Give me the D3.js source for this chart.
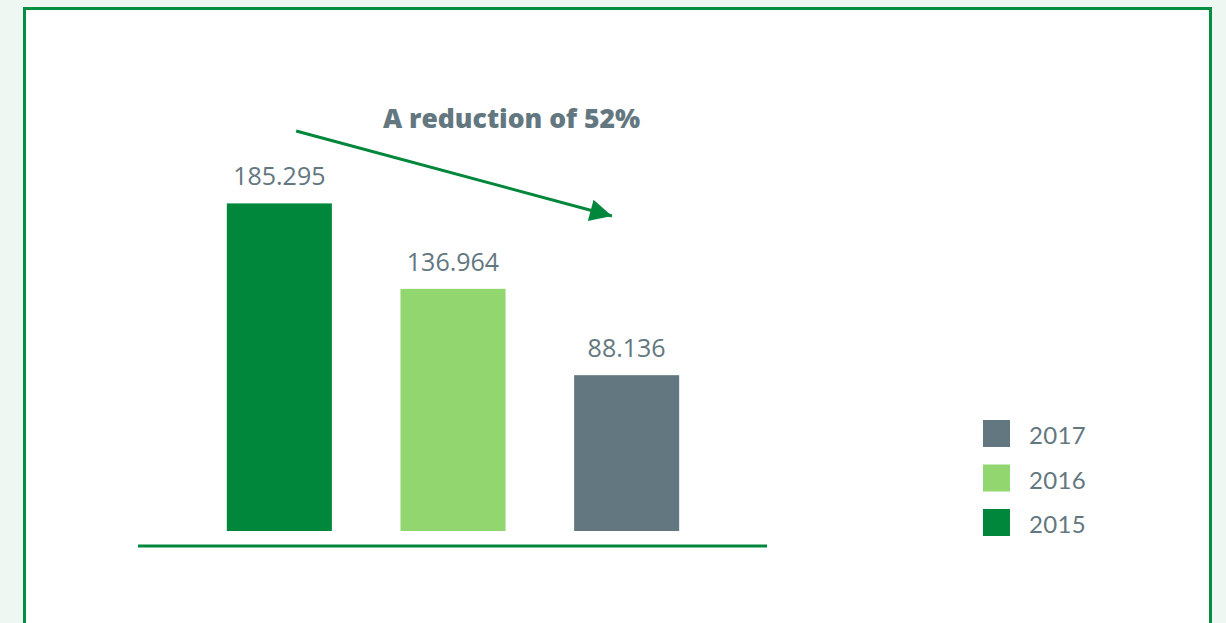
<!DOCTYPE html>
<html>
<head>
<meta charset="utf-8">
<script src="https://cdn.jsdelivr.net/npm/d3@7"></script>
<style>
  html, body { margin: 0; padding: 0; background: #eef7f1; }
  svg { display: block; }
</style>
</head>
<body>
<svg id="chart" width="1226" height="623"></svg>
<script>
// Yearly totals
const years = ["2015", "2016", "2017"];
const values = [185.295, 136.964, 88.136];
const valueLabels = ["185.295", "136.964", "88.136"];
const legendOrder = ["2017", "2016", "2015"];
const headline = "A reduction of 52%";

const colors = { "2015": "#00873b", "2016": "#92d670", "2017": "#637780" };
const green = "#00873b";
const textColor = "#637780";

const svg = d3.select("#chart");

// framed white panel
svg.append("rect")
  .attr("x", 24.5).attr("y", 8.5)
  .attr("width", 1186).attr("height", 640)
  .attr("fill", "#ffffff")
  .attr("stroke", "#058d41")
  .attr("stroke-width", 3);

const baseY = 531;
const x = d3.scaleBand()
  .domain(years)
  .range([140, 766])
  .paddingInner(0.395)
  .paddingOuter(0.5);

const y = d3.scaleLinear()
  .domain([0, 100])
  .range([baseY, baseY - 176.8]);

const data = years.map((yr, i) => ({ year: yr, value: values[i], label: valueLabels[i] }));

// bars
svg.append("g").selectAll("rect")
  .data(data)
  .join("rect")
  .attr("x", d => x(d.year))
  .attr("y", d => y(d.value))
  .attr("width", x.bandwidth())
  .attr("height", d => baseY - y(d.value))
  .attr("fill", d => colors[d.year]);

// value labels
svg.append("g").selectAll("text")
  .data(data)
  .join("text")
  .attr("x", d => x(d.year) + x.bandwidth() / 2)
  .attr("y", d => y(d.value) - 18)
  .attr("text-anchor", "middle")
  .attr("font-family", "'Open Sans', sans-serif")
  .attr("font-size", 25)
  .attr("fill", textColor)
  .text(d => d.label);

// axis line
svg.append("line")
  .attr("x1", 138).attr("x2", 767)
  .attr("y1", 546).attr("y2", 546)
  .attr("stroke", green)
  .attr("stroke-width", 3);

// headline
svg.append("text")
  .attr("x", 511.5).attr("y", 128)
  .attr("text-anchor", "middle")
  .attr("font-family", "'Open Sans', sans-serif")
  .attr("font-weight", 800)
  .attr("font-size", 26.5)
  .attr("fill", textColor)
  .text(headline);

// trend arrow
svg.append("defs").append("marker")
  .attr("id", "arrowhead")
  .attr("viewBox", "0 0 10 10")
  .attr("refX", 10).attr("refY", 5)
  .attr("markerUnits", "userSpaceOnUse")
  .attr("markerWidth", 30).attr("markerHeight", 22)
  .attr("orient", "auto")
  .append("path")
  .attr("d", "M0,0 L10,5 L0,10 Z")
  .attr("fill", green);

const ax1 = x("2015") + x.bandwidth() * 0.66;
const ax2 = x("2017") + x.bandwidth() * 0.36;
svg.append("line")
  .attr("x1", ax1).attr("y1", 131)
  .attr("x2", ax2).attr("y2", 216)
  .attr("stroke", green)
  .attr("stroke-width", 3)
  .attr("marker-end", "url(#arrowhead)");

// legend
const legend = svg.append("g").selectAll("g")
  .data(legendOrder)
  .join("g")
  .attr("transform", (d, i) => `translate(983, ${420 + i * 44.5})`);

legend.append("rect")
  .attr("width", 27).attr("height", 27)
  .attr("fill", d => colors[d]);

legend.append("text")
  .attr("x", 46).attr("y", 24)
  .attr("font-family", "'Lato', sans-serif")
  .attr("font-size", 24)
  .attr("letter-spacing", 0.3)
  .attr("fill", textColor)
  .text(d => d);
</script>
</body>
</html>
